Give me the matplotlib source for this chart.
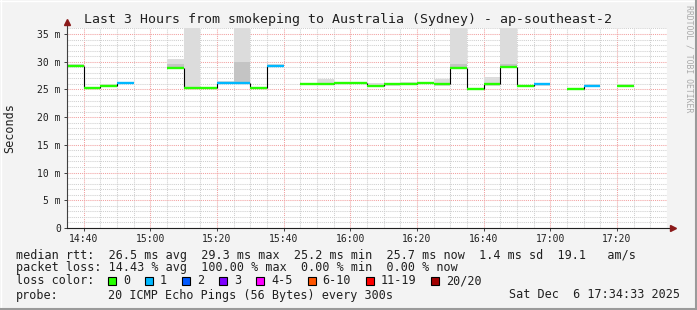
import numpy as np
import pandas as pd
import matplotlib
matplotlib.use("Agg")
import matplotlib.pyplot as plt
import matplotlib.dates as mdates
from matplotlib.ticker import MultipleLocator, FuncFormatter
from matplotlib.patches import Rectangle
from matplotlib.lines import Line2D

nan = np.nan

# 5 minute slots, 14:35 .. 17:30
slot_start = pd.date_range("2025-12-06 14:35", periods=36, freq="5min")

# median rtt in ms (nan = no answer)
median = [29.3, 25.3, 25.7, 26.1, nan, nan, 28.9, 25.3, 25.3, 26.1, 26.1, 25.3,
          29.3, nan, 26.0, 26.0, 26.2, 26.2, 25.7, 25.9, 26.0, 26.2, 25.9, 28.9,
          25.1, 25.9, 29.1, 25.6, 25.9, nan, 25.1, 25.7, nan, 25.7, nan, nan]
# lost pings out of 20
loss = [0, 0, 0, 1, 20, 20, 0, 0, 0, 1, 1, 0,
        1, 20, 0, 0, 0, 0, 0, 0, 0, 0, 0, 0,
        0, 0, 0, 0, 1, 20, 0, 1, 20, 0, 20, 20]
# smoke: max ping per slot and top of the darker band
smoke_max = [29.5, 25.5, 25.9, 26.3, nan, nan, 30.4, 40.0, 25.5, 26.5, 40.0, 25.5,
             29.5, nan, 26.2, 26.9, 26.4, 26.4, 26.1, 26.1, 26.4, 26.4, 26.9, 40.0,
             25.3, 27.2, 40.0, 25.8, 26.1, nan, 25.3, 25.9, nan, 26.0, nan, nan]
smoke_dark = [nan, nan, nan, nan, nan, nan, 29.6, nan, nan, nan, 30.0, nan,
              nan, nan, nan, nan, nan, nan, nan, nan, nan, nan, nan, 29.5,
              nan, nan, 29.6, nan, nan, nan, nan, nan, nan, nan, nan, nan]

loss_labels = ["0", "1", "2", "3", "4-5", "6-10", "11-19", "20/20"]
loss_colors = ["#26ff00", "#00b8ff", "#0059ff", "#7e00ff", "#ff00ff", "#ff5500", "#ff0000", "#a10000"]
loss_bins = [0, 1, 2, 3, 5, 10, 19, 20]

stats_rtt = "median rtt:  26.5 ms avg  29.3 ms max  25.2 ms min  25.7 ms now  1.4 ms sd  19.1   am/s"
stats_loss = "packet loss: 14.43 % avg  100.00 % max  0.00 % min  0.00 % now"
probe_text = "20 ICMP Echo Pings (56 Bytes) every 300s"
stamp = "Sat Dec  6 17:34:33 2025"

W, H = 697, 310
mono = "DejaVu Sans Mono"
plt.rcParams["font.family"] = mono

fig = plt.figure(figsize=(W / 100, H / 100), dpi=100, facecolor="#f3f3f3")
ax = fig.add_axes([67 / W, 1 - 228 / H, 600 / W, 200 / H])
ax.set_facecolor("white")

x0 = mdates.date2num(slot_start)
step = 5 / 1440.0
med = np.array(median)
smax = np.array(smoke_max)
sdark = np.array(smoke_dark)

# smoke
ok = ~np.isnan(smax)
ax.bar(x0[ok], smax[ok] - (med[ok] - 0.2), bottom=med[ok] - 0.2, width=step,
       align="edge", color="#dcdcdc", linewidth=0, zorder=2)
ok = ~np.isnan(sdark)
ax.bar(x0[ok], sdark[ok] - med[ok], bottom=med[ok], width=step,
       align="edge", color="#c4c4c4", linewidth=0, zorder=2)

# black step connectors
for i in range(1, len(med)):
    if not np.isnan(med[i]) and not np.isnan(med[i - 1]):
        ax.vlines(x0[i], med[i - 1], med[i], color="black", lw=0.8, zorder=3)

# median coloured by loss
def loss_color(n):
    for b, c in zip(loss_bins, loss_colors):
        if n <= b:
            return c
    return loss_colors[-1]

for i in range(len(med)):
    if not np.isnan(med[i]):
        ax.hlines(med[i], x0[i], x0[i] + step, color=loss_color(loss[i]), lw=1.7, zorder=4)

ax.set_xlim(x0[0], x0[0] + 36 * step)
ax.set_ylim(0, 36.08)

ax.xaxis.set_major_locator(mdates.MinuteLocator(byminute=[0, 20, 40]))
ax.xaxis.set_minor_locator(mdates.MinuteLocator(byminute=range(0, 60, 5)))
ax.xaxis.set_major_formatter(mdates.DateFormatter("%H:%M"))
ax.yaxis.set_major_locator(MultipleLocator(5))
ax.yaxis.set_minor_locator(MultipleLocator(1))
ax.yaxis.set_major_formatter(FuncFormatter(lambda v, p: "0" if v == 0 else f"{v:g} m"))

ax.set_axisbelow(True)
ax.grid(which="minor", color="#cfcfcf", linestyle=(0, (1, 1)), lw=0.75)
ax.grid(which="major", color="#f2a0a0", linestyle=(0, (1, 1)), lw=0.75)

for s in ax.spines.values():
    s.set_visible(False)
ax.tick_params(which="major", length=2, width=0.7, color="#404040", pad=2.5,
               labelsize=7, labelcolor="#202020")
ax.tick_params(which="minor", length=0)

# axes with arrows
ax.plot([0, 0], [0, 1.03], transform=ax.transAxes, color="#404040", lw=0.8, clip_on=False, zorder=5)
ax.plot([0, 1.01], [0, 0], transform=ax.transAxes, color="#202020", lw=0.8, clip_on=False, zorder=5)
ax.plot(0, 1.03, marker="^", ms=4.5, color="#8b1a1a", transform=ax.transAxes, clip_on=False, zorder=6)
ax.plot(1.01, 0, marker=">", ms=4.5, color="#8b1a1a", transform=ax.transAxes, clip_on=False, zorder=6)

def px(x, y):
    return x / W, 1 - y / H

fig.text(*px(348.5, 19), "Last 3 Hours from smokeping to Australia (Sydney) - ap-southeast-2",
         ha="center", va="center", fontsize=9.5, color="#202020")
fig.text(*px(10, 128), "Seconds", rotation=90, ha="center", va="center", fontsize=8.5, color="#202020")
fig.text(*px(689, 5), "RRDTOOL / TOBI OETIKER", rotation=-90, ha="center", va="top",
         fontsize=5.9, color="#aaaaaa")

fs = 8.5
fig.text(*px(16, 255), stats_rtt, ha="left", va="center", fontsize=fs, color="#202020")
fig.text(*px(16, 268), stats_loss, ha="left", va="center", fontsize=fs, color="#202020")
fig.text(*px(16, 281), "loss color:", ha="left", va="center", fontsize=fs, color="#202020")
fig.text(*px(16, 295), "probe:", ha="left", va="center", fontsize=fs, color="#202020")
fig.text(*px(108, 295), probe_text, ha="left", va="center", fontsize=fs, color="#202020")
fig.text(*px(680, 295), stamp, ha="right", va="center", fontsize=fs, color="#202020")

cw = 7.08
bx = 108
for lab, col in zip(loss_labels, loss_colors):
    fig.add_artist(Rectangle(px(bx, 285), 8 / W, 8 / H, transform=fig.transFigure,
                             facecolor=col, edgecolor="black", lw=0.8))
    fig.text(*px(bx + 15, 281), lab, ha="left", va="center", fontsize=fs, color="#202020")
    bx = bx + 15 + len(lab) * cw + 15

# canvas border
fig.add_artist(Line2D([0, 1], [1 - 0.5 / H] * 2, transform=fig.transFigure, color="white", lw=1))
fig.add_artist(Line2D([0.5 / W] * 2, [0, 1], transform=fig.transFigure, color="white", lw=1))
fig.add_artist(Line2D([0, 1], [1.5 / H] * 2, transform=fig.transFigure, color="#9a9a9a", lw=1.5))
fig.add_artist(Line2D([1 - 1.5 / W] * 2, [0, 1], transform=fig.transFigure, color="#9a9a9a", lw=1.5))

fig.savefig("out.png", dpi=100, facecolor=fig.get_facecolor())
